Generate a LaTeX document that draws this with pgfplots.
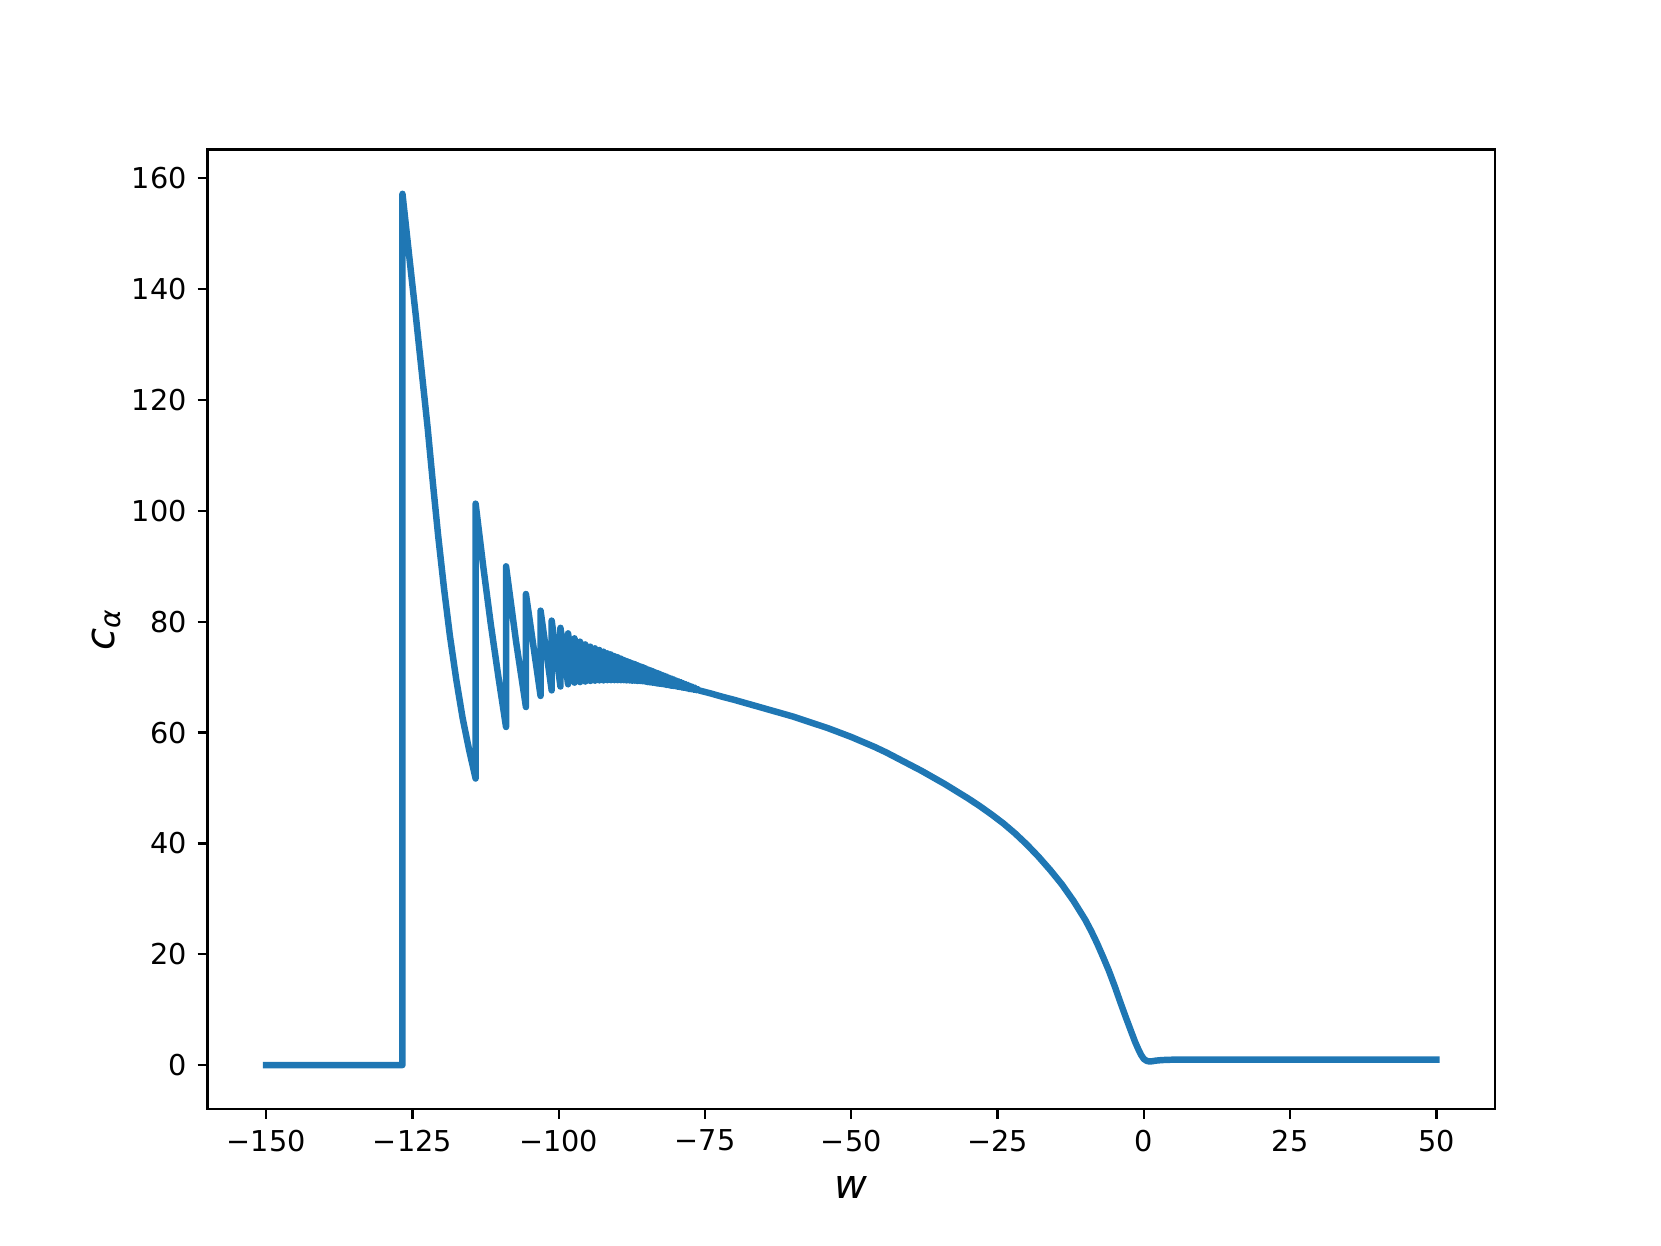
\documentclass[border=0pt]{standalone}
\usepackage{pgfplots}
\pgfplotsset{compat=1.18}
\usepackage{fontspec}
\setmainfont{DejaVu Sans}
\definecolor{mplblue}{HTML}{1F77B4}
\begin{document}
\begin{tikzpicture}
\path[use as bounding box] (0,0) rectangle (6.4in,4.8in);
\begin{axis}[
  at={(0.8in,0.528in)}, anchor=south west,
  width=4.96in, height=3.696in, scale only axis,
  xmin=-160, xmax=60, ymin=-7.87, ymax=165.2,
  axis line style={line width=0.64pt, black},
  tick align=outside, major tick length=2.8pt,
  tick style={line width=0.64pt, black},
  xtick pos=left, ytick pos=left,
  xtick={-150,-125,-100,-75,-50,-25,0,25,50},
  xticklabels={−150,−125,−100,−75,−50,−25,0,25,50},
  ytick={0,20,40,60,80,100,120,140,160},
  yticklabels={0,20,40,60,80,100,120,140,160},
  tick label style={font=\fontsize{8}{10}\selectfont},
  xticklabel style={yshift=0.4pt},
  yticklabel style={xshift=0.5pt},
  xlabel={\fontsize{11.2}{13}\selectfont\itshape w},
  ylabel={\fontsize{11.2}{13}\selectfont\itshape c\textsubscript{\itshape α}},
  xlabel style={yshift=0.1pt},
  ylabel style={yshift=-3.9pt},
]
\addplot[mplblue, line width=1.8pt, line join=round, line cap=rect] coordinates {
(-150,0) (-126.7,0) (-126.7,157.2)
(-125.5,145.5) (-124.4,135) (-123.4,125) (-122.4,115) (-121.5,105) (-120.6,95.5) (-119.6,86) (-118.6,77.5) (-117.5,69.5) (-116.4,62.5) (-115.3,56.8) (-114.2,51.7)
(-114.2,101.3) (-112.9,90) (-111.6,79.5) (-110.3,70) (-109.0,61.0)
(-109.0,90.0) (-107.3,76.5) (-105.6,64.6)
(-105.6,85.0) (-103.1,66.6)
(-103.1,82.0) (-101.2,67.6)
(-101.2,80.2) (-99.7,68.3)
(-99.7,78.9) (-98.4,68.7)
(-98.4,77.9) (-97.3,69.0)
(-97.3,77.0) (-96.35,69.1)
(-96.35,76.4) (-95.45,69.2)
(-95.45,75.9) (-94.6,69.3)
(-94.6,75.5) (-93.8,69.35)
(-93.8,75.2) (-93.05,69.4)
(-93.05,74.9) (-92.35,69.4)
(-92.35,74.6) (-91.7,69.45)
(-91.7,74.3) (-91.1,69.45)
(-91.1,74.1) (-90.5,69.45)
(-90.5,73.8) (-89.95,69.45)
(-89.95,73.6) (-89.4,69.45)
(-89.4,73.35) (-88.9,69.45)
(-88.9,73.1) (-88.4,69.4)
(-88.4,72.9) (-87.9,69.4)
(-87.9,72.7) (-87.45,69.35)
(-87.45,72.5) (-87.0,69.35)
(-87.0,72.35) (-86.55,69.3)
(-86.55,72.15) (-86.1,69.3)
(-86.1,71.95) (-85.65,69.25)
(-85.65,71.8) (-85.2,69.2)
(-85.2,71.6) (-84.8,69.1)
(-84.8,71.4) (-84.4,69.05)
(-84.4,71.25) (-84.0,69.0)
(-84.0,71.1) (-83.6,68.95)
(-83.6,70.9) (-83.2,68.85)
(-83.2,70.75) (-82.8,68.8)
(-82.8,70.6) (-82.4,68.75)
(-82.4,70.4) (-82.0,68.7)
(-82.0,70.25) (-81.6,68.6)
(-81.6,70.1) (-81.2,68.55)
(-81.2,69.9) (-80.8,68.45)
(-80.8,69.75) (-80.4,68.4)
(-80.4,69.6) (-80.0,68.35)
(-80.0,69.4) (-79.6,68.25)
(-79.6,69.25) (-79.2,68.2)
(-79.2,69.1) (-78.8,68.1)
(-78.8,68.9) (-78.4,68.05)
(-78.4,68.75) (-78.0,67.95)
(-78.0,68.6) (-77.6,67.85)
(-77.6,68.4) (-77.2,67.8)
(-77.2,68.25) (-76.8,67.7)
(-76.8,68.1) (-76.4,67.65)
(-76.4,67.9) (-76.0,67.6)
(-74,67.05) (-72,66.45) (-70,65.9) (-68,65.3) (-66,64.7) (-64,64.1)
(-62,63.5) (-60,62.9) (-58,62.2) (-56,61.5) (-54,60.8) (-52,60.0)
(-50,59.2) (-48,58.3) (-46,57.4) (-44,56.4) (-42,55.3) (-40,54.2)
(-38,53.1) (-36,51.9) (-34,50.7) (-32,49.4) (-30,48.1) (-28,46.7)
(-26,45.2) (-24,43.6) (-22,41.8) (-20,39.8) (-18,37.6) (-16,35.2)
(-14,32.6) (-12,29.6) (-10,26.2) (-9,24.2) (-8,22.0) (-7,19.6)
(-6,17.1) (-5,14.3) (-4,11.3) (-3,8.4) (-2,5.6) (-1.5,4.2) (-1,3.0)
(-0.5,1.9) (0,1.1) (0.5,0.75) (1,0.65) (1.5,0.7) (2,0.8) (3,0.9)
(4,0.95) (6,1.0) (10,1.0) (50,1.0)
};
\end{axis}
\end{tikzpicture}
\end{document}
